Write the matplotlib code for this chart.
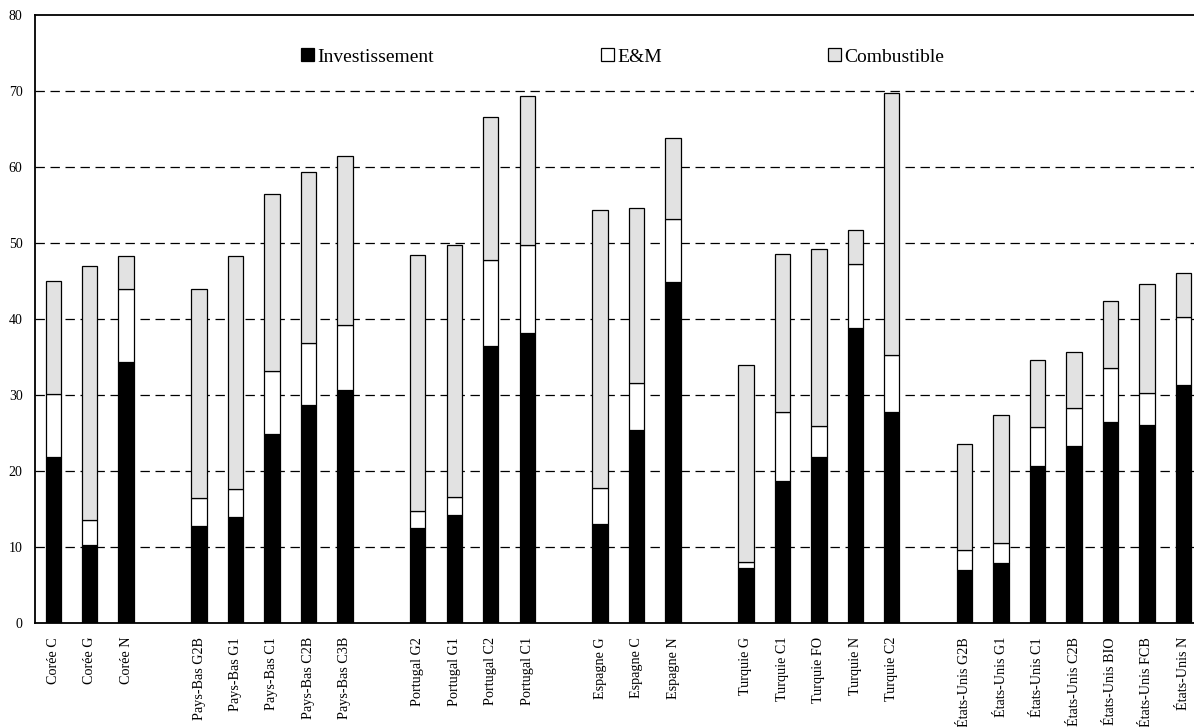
import matplotlib.pyplot as plt
from matplotlib.legend import Legend
import numpy as np

plt.rcParams['font.family'] = ['Liberation Serif', 'DejaVu Serif']

# centrales par pays (un espace vide entre chaque pays)
groupes = [
    ["Corée C", "Corée G", "Corée N"],
    ["Pays-Bas G2B", "Pays-Bas G1", "Pays-Bas C1", "Pays-Bas C2B", "Pays-Bas C3B"],
    ["Portugal G2", "Portugal G1", "Portugal C2", "Portugal C1"],
    ["Espagne G", "Espagne C", "Espagne N"],
    ["Turquie G", "Turquie C1", "Turquie FO", "Turquie N", "Turquie C2"],
    ["États-Unis G2B", "États-Unis G1", "États-Unis C1", "États-Unis C2B",
     "États-Unis BIO", "États-Unis FCB", "États-Unis N"],
]

investissement = [21.9, 10.2, 34.4,
                  12.7, 13.9, 24.9, 28.7, 30.7,
                  12.5, 14.2, 36.4, 38.2,
                  13.0, 25.4, 44.9,
                  7.2, 18.7, 21.9, 38.8, 27.7,
                  7.0, 7.85, 20.6, 23.3, 26.5, 26.0, 31.35]
em = [8.2, 3.35, 9.6,
      3.7, 3.7, 8.2, 8.2, 8.55,
      2.3, 2.4, 11.4, 11.6,
      4.8, 6.2, 8.2,
      0.8, 9.0, 4.0, 8.5, 7.5,
      2.6, 2.65, 5.15, 5.0, 7.1, 4.2, 8.95]
combustible = [14.9, 33.45, 4.3,
               27.6, 30.7, 23.4, 22.4, 22.25,
               33.6, 33.2, 18.8, 19.5,
               36.5, 23.05, 10.7,
               25.9, 20.9, 23.3, 4.45, 34.5,
               13.95, 16.9, 8.9, 7.35, 8.8, 14.45, 5.8]

labels = []
x = []
pos = 0
for g in groupes:
    for nom in g:
        labels.append(nom)
        x.append(pos)
        pos += 1
    pos += 1
x = np.array(x)
inv = np.array(investissement)
em = np.array(em)
comb = np.array(combustible)

fig = plt.figure(figsize=(11.94, 7.27), dpi=100)
ax = fig.add_axes([35 / 1194, 104 / 727, 1159 / 1194, 608 / 727])

w = 0.42
kw = dict(width=w, edgecolor="black", linewidth=0.9, zorder=3)
b1 = ax.bar(x, inv, color="black", **kw)
b2 = ax.bar(x, em, bottom=inv, color="white", **kw)
b3 = ax.bar(x, comb, bottom=inv + em, color="#e2e2e2", **kw)

ax.set_xlim(-0.5, 31.29)
ax.set_ylim(0, 80)
ax.set_yticks(range(0, 81, 10))
ax.tick_params(axis="y", length=0, pad=9, labelsize=10)
ax.set_xticks(x)
ax.set_xticklabels(labels, rotation=90, fontsize=10.2)
ax.tick_params(axis="x", length=0, pad=10)

for v in range(10, 80, 10):
    ax.axhline(v, color="black", linewidth=0.9, linestyle=(0, (7.5, 4.5)), zorder=1)

for s in ["top", "left", "bottom"]:
    ax.spines[s].set_linewidth(1.3)
ax.spines["right"].set_visible(False)

# légende : trois entrées placées séparément
entrees = [(b1, "Investissement", 301), (b2, "E&M", 601), (b3, "Combustible", 828)]
for h, txt, px in entrees:
    leg = Legend(ax, [h], [txt], loc="center left",
                 bbox_to_anchor=((px - 35) / 1159, (623 - 57) / 608),
                 frameon=False, fontsize=14, handlelength=0.65, handleheight=0.65,
                 handletextpad=0.2, borderpad=0, borderaxespad=0)
    ax.add_artist(leg)

fig.savefig("out.png", dpi=100)
